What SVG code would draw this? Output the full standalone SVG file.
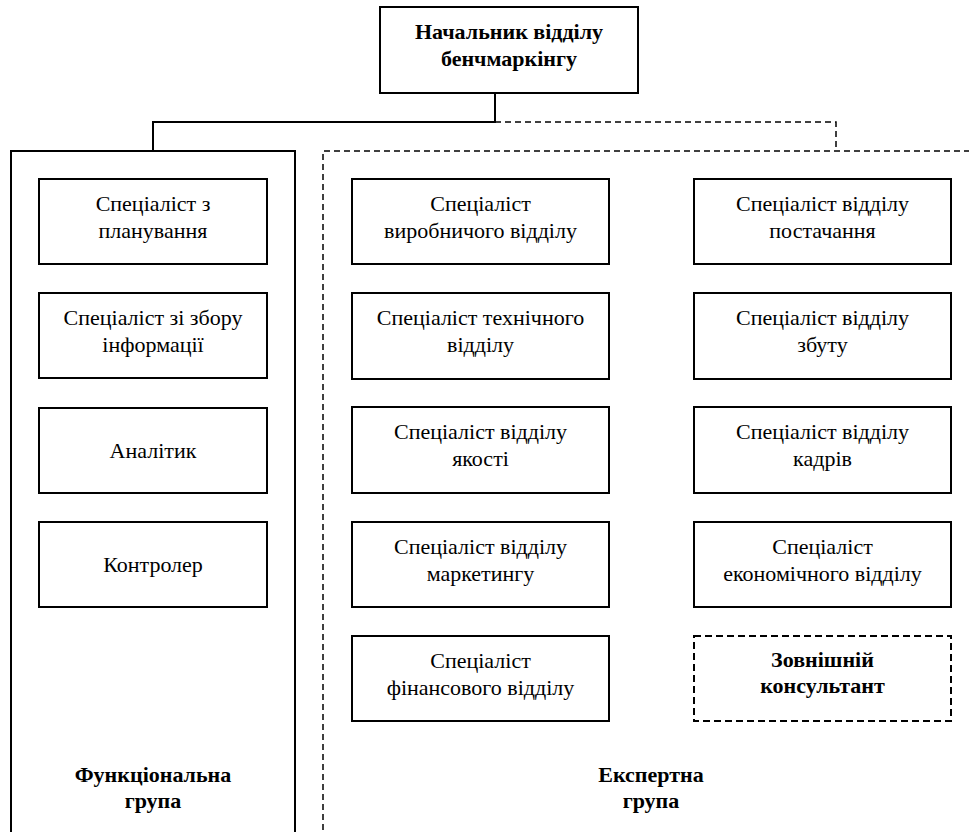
<svg xmlns="http://www.w3.org/2000/svg" width="969" height="832" viewBox="0 0 969 832" font-family="Liberation Serif, Times New Roman, DejaVu Serif, serif">
<style>
  .box { fill: #fff; stroke: #000; stroke-width: 2; }
  .dbox { fill: #fff; stroke: #000; stroke-width: 2; stroke-dasharray: 7 4; }
  .grp { fill: none; stroke: #000; stroke-width: 2; }
  .dgrp { fill: none; stroke: #000; stroke-width: 1.5; stroke-dasharray: 6 4; }
  .ln { fill: none; stroke: #000; stroke-width: 2; }
  .dln { fill: none; stroke: #000; stroke-width: 1.5; stroke-dasharray: 6 4; }
  text { font-family: 'Liberation Serif', 'Times New Roman', 'DejaVu Serif', serif; font-size: 22px; text-anchor: middle; fill: #000; }
  .b { font-weight: bold; }
</style>
<rect width="969" height="832" fill="#fff"/>

<g id="connectors">
  <path class="ln" d="M495,93 V122 H153 V151"/>
  <path class="dln" d="M495,122 H836 V151"/>
</g>

<g id="functional-group">
  <path class="grp" d="M11,840 V151 H295 V840"/>
  <text class="b" x="153" y="782">Функціональна</text>
  <text class="b" x="153" y="808">група</text>
</g>

<g id="expert-group">
  <path class="dgrp" d="M323,840 V151 H975"/>
  <text class="b" x="651" y="782">Експертна</text>
  <text class="b" x="651" y="808">група</text>
</g>

<g id="head">
  <rect class="box" x="380" y="7" width="258" height="86"/>
  <text class="b" x="509" y="39">Начальник відділу</text>
  <text class="b" x="509" y="66">бенчмаркінгу</text>
</g>

<g id="f1">
  <rect class="box" x="39" y="179" width="228" height="85"/>
  <text x="153" y="211">Спеціаліст з</text>
  <text x="153" y="238">планування</text>
</g>
<g id="f2">
  <rect class="box" x="39" y="293" width="228" height="85"/>
  <text x="153" y="325">Спеціаліст зі збору</text>
  <text x="153" y="352">інформації</text>
</g>
<g id="f3">
  <rect class="box" x="39" y="408" width="228" height="85"/>
  <text x="153" y="458">Аналітик</text>
</g>
<g id="f4">
  <rect class="box" x="39" y="522" width="228" height="85"/>
  <text x="153" y="572">Контролер</text>
</g>

<g id="e1">
  <rect class="box" x="352" y="179" width="257" height="85"/>
  <text x="480.5" y="211">Спеціаліст</text>
  <text x="480.5" y="238">виробничого відділу</text>
</g>
<g id="e2">
  <rect class="box" x="352" y="293" width="257" height="86"/>
  <text x="480.5" y="325">Спеціаліст технічного</text>
  <text x="480.5" y="352">відділу</text>
</g>
<g id="e3">
  <rect class="box" x="352" y="407" width="257" height="86"/>
  <text x="480.5" y="439">Спеціаліст відділу</text>
  <text x="480.5" y="466">якості</text>
</g>
<g id="e4">
  <rect class="box" x="352" y="522" width="257" height="85"/>
  <text x="480.5" y="554">Спеціаліст відділу</text>
  <text x="480.5" y="581">маркетингу</text>
</g>
<g id="e5">
  <rect class="box" x="352" y="636" width="257" height="85"/>
  <text x="480.5" y="668">Спеціаліст</text>
  <text x="480.5" y="695">фінансового відділу</text>
</g>

<g id="e6">
  <rect class="box" x="694" y="179" width="257" height="85"/>
  <text x="822.5" y="211">Спеціаліст відділу</text>
  <text x="822.5" y="238">постачання</text>
</g>
<g id="e7">
  <rect class="box" x="694" y="293" width="257" height="86"/>
  <text x="822.5" y="325">Спеціаліст відділу</text>
  <text x="822.5" y="352">збуту</text>
</g>
<g id="e8">
  <rect class="box" x="694" y="407" width="257" height="86"/>
  <text x="822.5" y="439">Спеціаліст відділу</text>
  <text x="822.5" y="466">кадрів</text>
</g>
<g id="e9">
  <rect class="box" x="694" y="522" width="257" height="85"/>
  <text x="822.5" y="554">Спеціаліст</text>
  <text x="822.5" y="581">економічного відділу</text>
</g>
<g id="e10">
  <rect class="dbox" x="694" y="636" width="257" height="85"/>
  <text class="b" x="822.5" y="667">Зовнішній</text>
  <text class="b" x="822.5" y="693">консультант</text>
</g>
</svg>
